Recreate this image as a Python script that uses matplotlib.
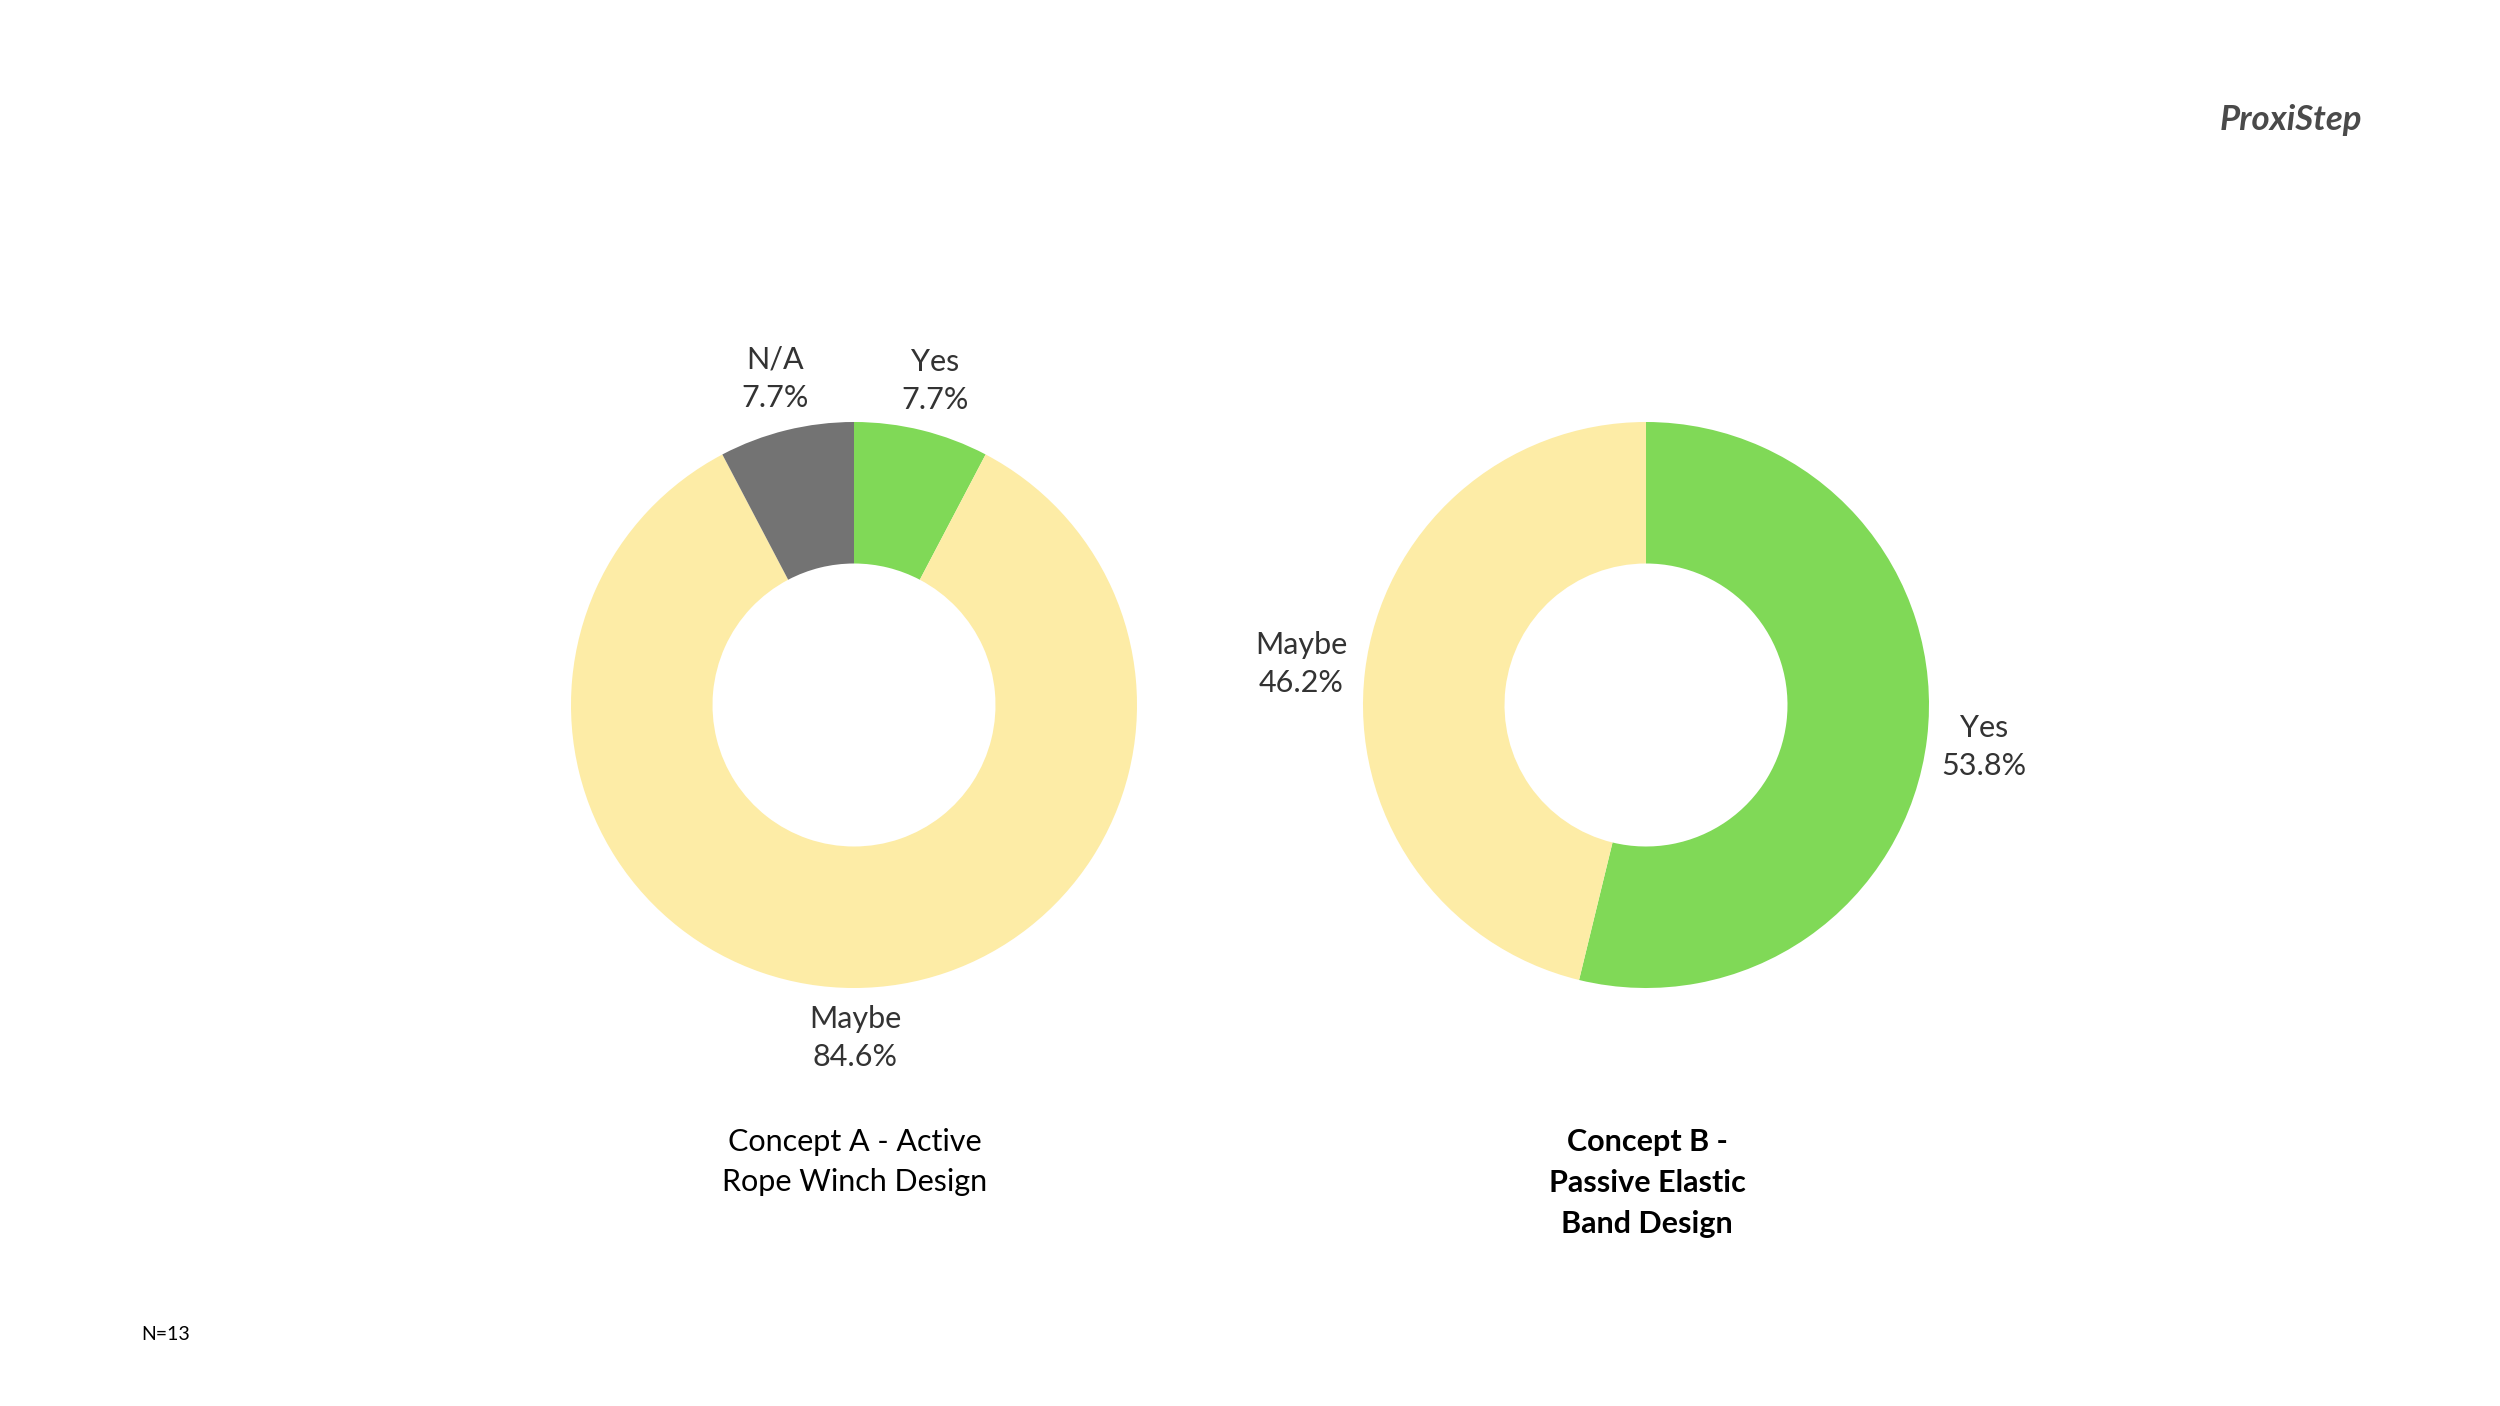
import matplotlib
matplotlib.use('Agg')
import matplotlib.pyplot as plt

# data
a_labels = ['Yes', 'Maybe', 'N/A']
a_values = [7.7, 84.6, 7.7]
a_colors = ['#80D957', '#FDECA6', '#737373']
b_labels = ['Yes', 'Maybe']
b_values = [53.8, 46.2]
b_colors = ['#80D957', '#FDECA6']

W, H = 2500, 1406
fig = plt.figure(figsize=(25, 14.06), dpi=100)
ax = fig.add_axes([0, 0, 1, 1])

R = 283
ring = dict(width=R / 2, edgecolor='none')
ca = (854, 705)
cb = (1646, 705)

ax.pie(a_values, colors=a_colors, center=ca, radius=R, startangle=-90,
       counterclock=True, wedgeprops=ring, frame=True)
ax.pie(b_values, colors=b_colors, center=cb, radius=R, startangle=-90,
       counterclock=True, wedgeprops=ring, frame=True)
ax.set_xlim(0, W)
ax.set_ylim(H, 0)
ax.set_aspect('equal')
ax.axis('off')

lab = dict(ha='center', va='center', fontsize=22, color='#333333',
           family='Lato', linespacing=1.45)
ax.text(775, 379, f'{a_labels[2]}\n{a_values[2]}%', **lab)
ax.text(935, 381, f'{a_labels[0]}\n{a_values[0]}%', **lab)
ax.text(855, 1038, f'{a_labels[1]}\n{a_values[1]}%', **lab)
ax.text(1301, 664, f'{b_labels[1]}\n{b_values[1]}%', **lab)
ax.text(1984, 747, f'{b_labels[0]}\n{b_values[0]}%', **lab)

ax.text(855, 1162, 'Concept A - Active\nRope Winch Design', ha='center', va='center',
        fontsize=22, family='Lato', linespacing=1.55)
ax.text(1647, 1183, 'Concept B -\nPassive Elastic\nBand Design', ha='center', va='center',
        fontsize=22, family='Lato', fontweight='bold', linespacing=1.55)
ax.text(141, 1334, 'N=13', ha='left', va='center', fontsize=14, family='Lato')
ax.text(2291, 120, 'ProxiStep', ha='center', va='center', fontsize=25, family='Lato',
        fontweight='bold', style='italic', color='#4a4a4a')

fig.savefig('out.png', dpi=100)
